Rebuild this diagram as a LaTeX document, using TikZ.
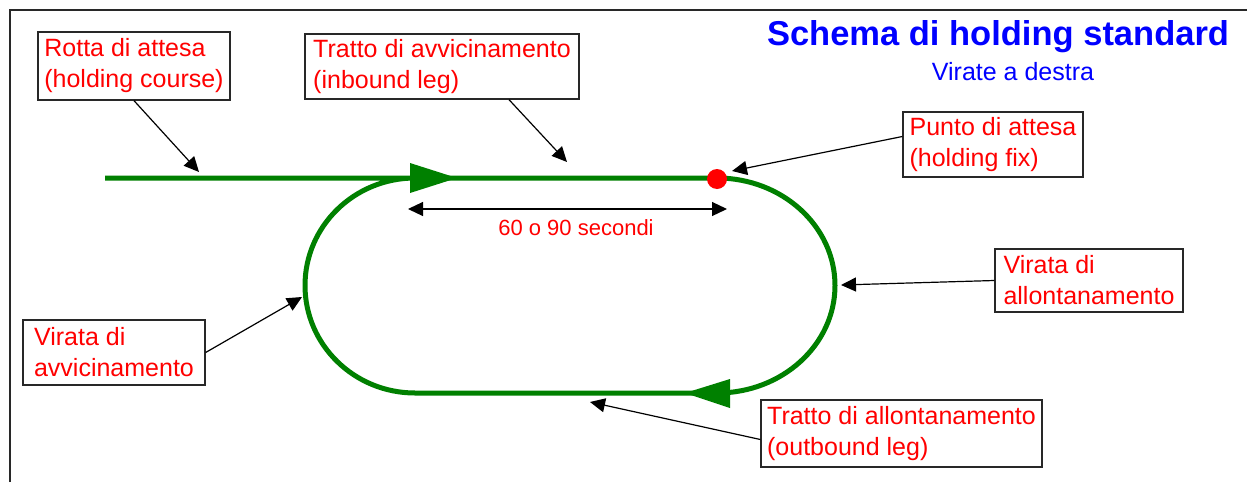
\documentclass[tikz,border=0pt]{standalone}
\usepackage{fontspec}
\setmainfont{Liberation Sans}
\usetikzlibrary{arrows.meta}
\definecolor{trackgreen}{RGB}{0,128,0}
\definecolor{boxline}{RGB}{40,40,40}
\definecolor{titleblue}{RGB}{0,0,255}
\begin{document}
\begin{tikzpicture}[x=1pt,y=-1pt,
  lbl/.style={draw=boxline, line width=1.3pt, fill=white, text=red, align=left,
    font=\fontsize{25}{31}\selectfont, inner xsep=3pt, inner ysep=2pt},
  pointer/.style={draw=black, line width=1.2pt, -{Triangle[length=15pt,width=14pt]}},
  dimline/.style={draw=black, line width=1.2pt, {Triangle[length=15pt,width=14pt]}-{Triangle[length=15pt,width=14pt]}},
  track/.style={draw=trackgreen, line width=5pt, line join=round},
  greenhead/.style={fill=trackgreen},
]
\useasboundingbox (0,0) rectangle (1247,482);
\fill[white] (0,0) rectangle (1247,482);
\draw[line width=2pt, color=boxline] (10,482) -- (10,10) -- (1247,10);

% title
\node[text=titleblue, font=\fontsize{34.5}{40}\selectfont\bfseries] (title) at (998,37) {Schema di holding standard};
\node[text=titleblue, font=\fontsize{25}{30}\selectfont] (subtitle) at (1013,72) {Virate a destra};

% track
\draw[track] (105,178) -- (717,178)
  arc[start angle=90, end angle=-90, x radius=118pt, y radius=107.5pt]
  -- (415,393)
  arc[start angle=270, end angle=90, x radius=110pt, y radius=107.5pt];
\fill[greenhead] (410,163) -- (457,178) -- (410,193) -- cycle;
\fill[greenhead] (730,379) -- (685,393) -- (730,408) -- cycle;
\node[circle, fill=red, minimum size=20pt, inner sep=0pt] (fix) at (717,179) {};

% dimension
\coordinate (d1) at (408,209);
\coordinate (d2) at (727,209);
\draw[dimline] (d1) -- (d2);
\node[text=red, font=\fontsize{22}{26}\selectfont] (secs) at (576,228) {60 o 90 secondi};

% labels
\node[lbl, minimum width=192pt, minimum height=68pt] (rotta) at (134,66) {Rotta di attesa\\(holding course)};
\node[lbl, minimum width=274pt, minimum height=65pt] (avv) at (442,66.5) {Tratto di avvicinamento\\(inbound leg)};
\node[lbl, minimum width=180pt, minimum height=65pt] (punto) at (993,144.5) {Punto di attesa\\(holding fix)};
\node[lbl, minimum width=188pt, minimum height=63pt] (viralt) at (1089,280.5) {Virata di\\allontanamento};
\node[lbl, minimum width=281pt, minimum height=67pt] (tralt) at (901.5,433.5) {Tratto di allontanamento\\(outbound leg)};
\node[lbl, minimum width=182pt, minimum height=65pt] (viravv) at (114,352.5) {Virata di\\avvicinamento};

% pointer tips
\coordinate (tRotta) at (199,172);
\coordinate (tAvv) at (567,162);
\coordinate (tFix) at (732,171);
\coordinate (tVirAlt) at (841,285);
\coordinate (tTrAlt) at (590,402);
\coordinate (tVirAvv) at (302,297);

\draw[pointer] (rotta.south) -- (tRotta);
\draw[pointer] ([xshift=67pt]avv.south) -- (tAvv);
\draw[pointer] ([yshift=8pt]punto.west) -- (tFix);
\draw[pointer] (viralt.west) -- (tVirAlt);
\draw[pointer] ([yshift=-6pt]tralt.west) -- (tTrAlt);
\draw[pointer] (viravv.east) -- (tVirAvv);
\end{tikzpicture}
\end{document}
